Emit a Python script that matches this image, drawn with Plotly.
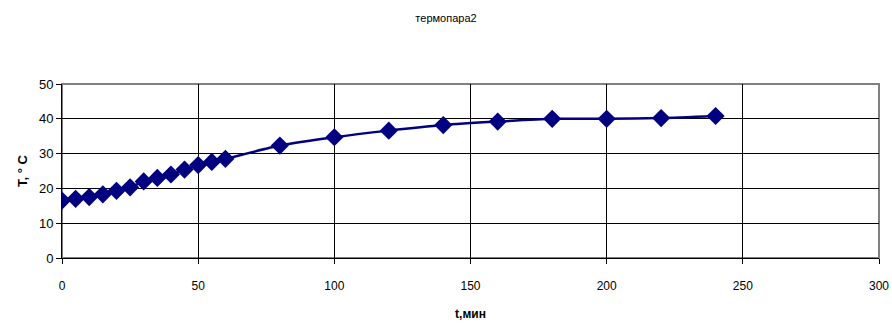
import plotly.graph_objects as go

t_min = [0, 5, 10, 15, 20, 25, 30, 35, 40, 45, 50, 55, 60, 80, 100, 120, 140, 160, 180, 200, 220, 240]
temp_c = [16.5, 17.0, 17.5, 18.3, 19.3, 20.3, 22.0, 23.0, 24.0, 25.4, 26.7, 27.6, 28.5, 32.3, 34.7, 36.6, 38.2, 39.2, 40.0, 40.0, 40.2, 40.8]

x_ticks = [0, 50, 100, 150, 200, 250, 300]
y_ticks = [0, 10, 20, 30, 40, 50]

FONT = "Liberation Sans, Arial, sans-serif"

fig = go.Figure()
fig.add_trace(go.Scatter(
    x=t_min, y=temp_c, mode="lines+markers",
    line=dict(color="#000080", width=2.5, shape="spline", smoothing=0.6),
    marker=dict(symbol="diamond", size=14, color="#000080"),
    showlegend=False, hoverinfo="x+y",
))

fig.add_shape(type="rect", xref="paper", yref="paper", x0=0, x1=1, y0=0, y1=1,
              line=dict(color="#808080", width=2), layer="below")

fig.update_layout(
    width=892, height=323, autosize=False,
    margin=dict(l=62, r=13, t=84, b=65, pad=0),
    paper_bgcolor="white", plot_bgcolor="white",
    font=dict(family=FONT, color="black", size=12),
    title=dict(text="термопара2", x=0.5, xanchor="center", xref="container",
               y=1 - 18 / 323, yanchor="middle", yref="container",
               font=dict(size=11, family=FONT), automargin=False),
    xaxis=dict(range=[0, 300], tickvals=x_ticks, ticks="outside", ticklen=5,
               tickcolor="black", showline=True, linecolor="black", linewidth=1,
               showgrid=True, gridcolor="black", gridwidth=1, zeroline=False,
               tickfont=dict(size=12), ticklabelstandoff=12, automargin=False,
               title=dict(text="<b>t,мин</b>", font=dict(size=12), standoff=17)),
    yaxis=dict(range=[0, 50], tickvals=y_ticks, ticks="outside", ticklen=5,
               tickcolor="black", showline=True, linecolor="black", linewidth=1,
               showgrid=True, gridcolor="black", gridwidth=1, zeroline=False,
               tickfont=dict(size=13), automargin=False,
               title=dict(text="<b>T, ° C</b>", font=dict(size=13), standoff=8)),
)

fig.write_html("out.html", config={"displayModeBar": False},
               post_script="document.body.style.margin='0';document.body.style.overflow='hidden';")
